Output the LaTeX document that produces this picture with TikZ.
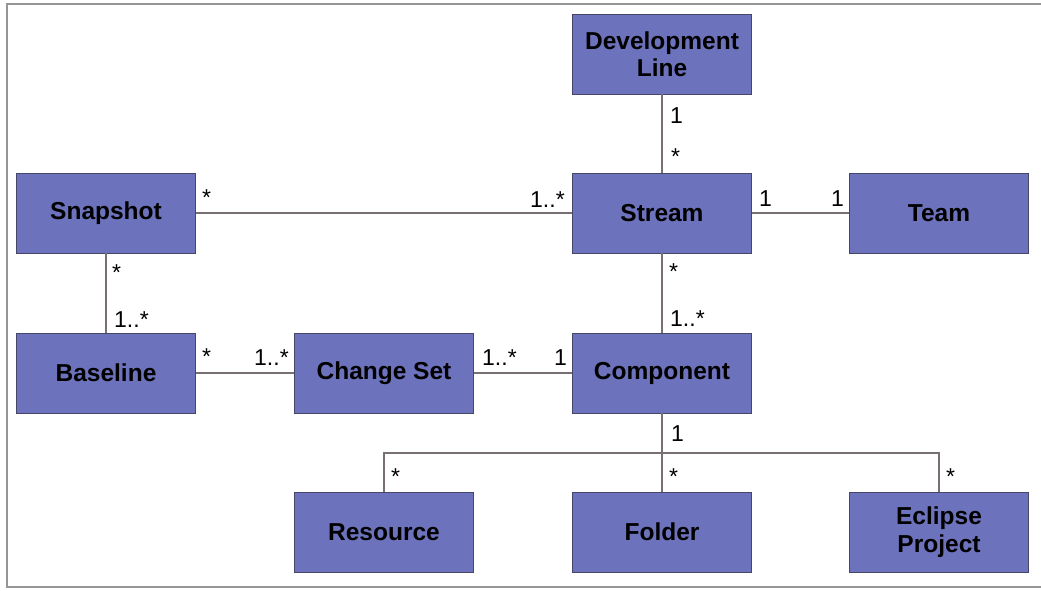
\documentclass[tikz,border=0pt]{standalone}
\usepackage{fontspec}
\setmainfont{Liberation Sans}
\definecolor{boxfill}{RGB}{108,114,188}
\definecolor{boxline}{RGB}{70,70,105}
\definecolor{linkcol}{RGB}{120,112,112}
\definecolor{framecol}{RGB}{150,150,150}
\begin{document}
\begin{tikzpicture}[x=1pt,y=-1pt,
  cls/.style={draw=boxline,line width=0.9pt,fill=boxfill,minimum width=179pt,minimum height=80pt,
    inner sep=0pt,align=center,font=\fontsize{24.5}{27.5}\selectfont\bfseries},
  link/.style={draw=linkcol,line width=1.4pt},
  mult/.style={anchor=base west,inner sep=0pt,font=\fontsize{23}{26}\selectfont}]
\useasboundingbox (0,0) rectangle (1041,590);
% frame
\draw[framecol,line width=1.2pt] (1041,4) -- (7,4) -- (7,587) -- (1041,587);

% classes
\node[cls] (dev)  at (662,54)  {Development\\Line};
\node[cls] (snap) at (106,213) {Snapshot};
\node[cls] (str)  at (662,213) {Stream};
\node[cls] (team) at (939,213) {Team};
\node[cls] (base) at (106,373) {Baseline};
\node[cls] (cs)   at (384,373) {Change Set};
\node[cls] (comp) at (662,373) {Component};
\node[cls] (res)  at (384,532) {Resource};
\node[cls] (fold) at (662,532) {Folder};
\node[cls] (ecl)  at (939,532) {Eclipse\\Project};

% associations
\draw[link] (dev) -- (str);
\draw[link] (snap) -- (str);
\draw[link] (str) -- (team);
\draw[link] (snap) -- (base);
\draw[link] (str) -- (comp);
\draw[link] (base) -- (cs);
\draw[link] (cs) -- (comp);
\coordinate (bus) at (662,453);
\draw[link] (comp.south) -- (bus);
\draw[link] (res.north) |- (bus) -| (ecl.north);
\draw[link] (bus) -- (fold.north);

% multiplicities
\node[mult] (m1)  at (670,123) {1};
\node[mult] (m2)  at (671,164) {*};
\node[mult] (m3)  at (202,205) {*};
\node[mult] (m4)  at (530,207) {1..*};
\node[mult] (m5)  at (759,206) {1};
\node[mult] (m6)  at (831,206) {1};
\node[mult] (m7)  at (112,280) {*};
\node[mult] (m8)  at (114,327) {1..*};
\node[mult] (m9)  at (669,279) {*};
\node[mult] (m10) at (670,326) {1..*};
\node[mult] (m11) at (202,364) {*};
\node[mult] (m12) at (254,365) {1..*};
\node[mult] (m13) at (482,365) {1..*};
\node[mult] (m14) at (554,365) {1};
\node[mult] (m15) at (671,441) {1};
\node[mult] (m16) at (391,484) {*};
\node[mult] (m17) at (669,484) {*};
\node[mult] (m18) at (946,484) {*};
\end{tikzpicture}
\end{document}
